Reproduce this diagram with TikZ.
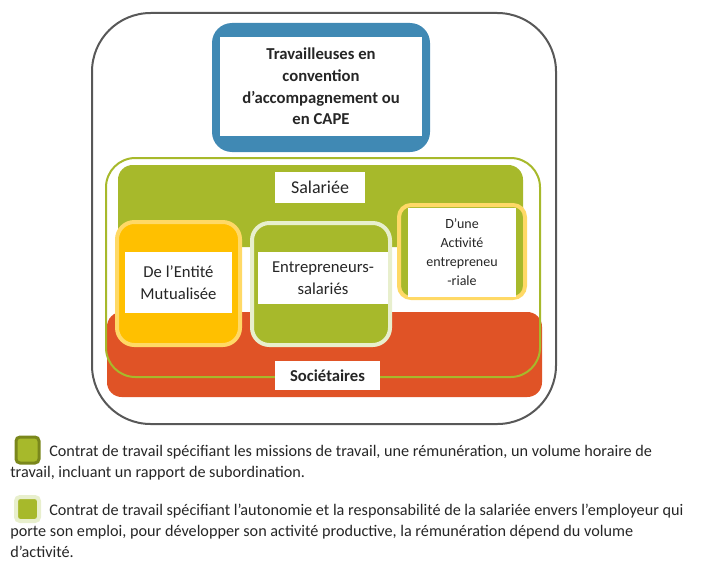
\documentclass[tikz,border=0pt]{standalone}
\usepackage{fontspec}
\setmainfont{Carlito}

\definecolor{capeblue}{RGB}{64,137,180}
\definecolor{framegray}{RGB}{88,88,88}
\definecolor{olivegreen}{RGB}{167,185,43}
\definecolor{darkolive}{RGB}{122,135,28}
\definecolor{palegreen}{RGB}{232,239,205}
\definecolor{societred}{RGB}{224,83,38}
\definecolor{gold}{RGB}{255,192,0}
\definecolor{lightgold}{RGB}{255,217,102}

\tikzset{
    labelbox/.style={fill=white, inner sep=0pt, align=center, text=black!85},
    legendtext/.style={anchor=north west, inner sep=0pt, align=left, text=black!85,
        font=\fontsize{12.15}{15.6}\selectfont},
}

\begin{document}
\begin{tikzpicture}[x=0.75pt,y=-0.75pt]
    \useasboundingbox (0,0) rectangle (709,560);
    % outer frame
    \draw[framegray, line width=1.5pt, rounded corners=44pt] (92,13) rectangle (556,424);
    % CAPE
    \fill[capeblue, rounded corners=15pt] (212,23) rectangle (430,152);
    \node[labelbox, minimum width=151.5pt, minimum height=74.25pt,
        font=\fontsize{12.5}{16.3}\selectfont\bfseries] (cape) at (321,86.5)
        {Travailleuses en\\convention\\d’accompagnement ou\\en CAPE};
    % Sociétaires and Salariée areas
    \fill[societred, rounded corners=11pt] (107,312) rectangle (542,397);
    \fill[olivegreen, rounded corners=11pt] (118,165) rectangle (523,247);
    \draw[olivegreen, line width=1.5pt, rounded corners=22pt] (106,158) rectangle (540,377);
    \node[labelbox, minimum width=67.5pt, minimum height=23.25pt,
        font=\fontsize{13.5}{16}\selectfont] (salariee) at (320,187.5) {Salariée};
    % inner boxes
    \filldraw[fill=gold, draw=lightgold, line width=3pt, rounded corners=13pt]
        (117,222) rectangle (240,345);
    \node[labelbox, minimum width=80.25pt, minimum height=45.75pt,
        font=\fontsize{12.5}{16.3}\selectfont] (entite) at (178.5,282.5)
        {De l’Entité\\Mutualisée};
    \filldraw[fill=olivegreen, draw=palegreen, line width=3pt, rounded corners=13pt]
        (252,223) rectangle (390,345);
    \node[labelbox, minimum width=97.5pt, minimum height=39pt,
        font=\fontsize{12.5}{16.3}\selectfont] (entrepreneurs) at (323,278)
        {Entrepreneurs-\\salariés};
    \filldraw[fill=olivegreen, draw=lightgold, line width=3pt, rounded corners=9pt]
        (399,205) rectangle (525,298);
    \node[labelbox, minimum width=81pt, minimum height=66.75pt,
        font=\fontsize{10.5}{14.25}\selectfont] (activite) at (462,252.5)
        {D’une\\Activité\\entrepreneu\\-riale};
    \node[labelbox, minimum width=78.75pt, minimum height=21.75pt,
        font=\fontsize{12.5}{15}\selectfont\bfseries] (societaires) at (327.5,375.5)
        {Sociétaires};
    % legend
    \filldraw[fill=olivegreen, draw=darkolive, line width=2.25pt, rounded corners=3pt]
        (16,437) rectangle (39,463);
    \node[legendtext] (subordination) at (10,445)
        {\hspace*{29.25pt}Contrat de travail spécifiant les missions de travail, une rémunération, un volume horaire de\\
        travail, incluant un rapport de subordination.};
    \filldraw[fill=olivegreen, draw=palegreen, line width=3pt, rounded corners=3pt]
        (16,497) rectangle (39,521);
    \node[legendtext] (autonomie) at (10,504)
        {\hspace*{29.25pt}Contrat de travail spécifiant l’autonomie et la responsabilité de la salariée envers l’employeur qui\\
        porte son emploi, pour développer son activité productive, la rémunération dépend du volume\\
        d’activité.};
\end{tikzpicture}
\end{document}
